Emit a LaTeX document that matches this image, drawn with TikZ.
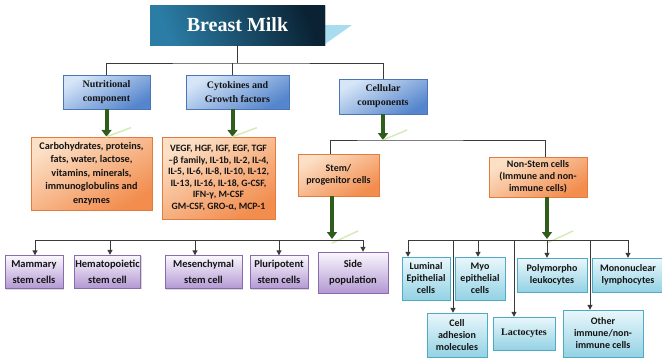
\documentclass[tikz,border=0pt]{standalone}
\usepackage{fontspec}
\setmainfont{Liberation Serif}
\newfontfamily\boxfont{Carlito}
\usetikzlibrary{arrows.meta,shadows}

\definecolor{titlelight}{HTML}{2B7DA6}
\definecolor{titledark}{HTML}{0A2233}
\definecolor{titleside}{HTML}{A8DDF0}
\definecolor{headtop}{HTML}{D6E6F8}
\definecolor{headbot}{HTML}{5585CC}
\definecolor{headline}{HTML}{4A76B8}
\definecolor{orangetop}{HTML}{FCE0C6}
\definecolor{orangebot}{HTML}{F28D4E}
\definecolor{orangeline}{HTML}{E37B3F}
\definecolor{purpletop}{HTML}{FAF7FD}
\definecolor{purplebot}{HTML}{B398D3}
\definecolor{purpleline}{HTML}{8A6CAE}
\definecolor{cyantop}{HTML}{EAF7FB}
\definecolor{cyanbot}{HTML}{93D2E4}
\definecolor{cyanline}{HTML}{4FAAC4}
\definecolor{arrowgreen}{HTML}{2F5E1C}
\definecolor{streak}{HTML}{D5EBB8}
\definecolor{busgray}{HTML}{3A3A3A}
\definecolor{boxtext}{HTML}{141414}

\tikzset{
  box/.style={inner sep=1pt, align=center, text=boxtext,
    drop shadow={opacity=.3, shadow xshift=1.2pt, shadow yshift=-1.2pt}},
  titlebox/.style={box, left color=titlelight, right color=titledark, shading angle=110,
    text=white, font=\bfseries\fontsize{20}{22}\selectfont},
  headbox/.style={box, draw=headline, top color=headtop, bottom color=headbot, shading angle=30,
    font=\bfseries\fontsize{10}{14}\selectfont},
  orangebox/.style={box, draw=orangeline, top color=orangetop, bottom color=orangebot, shading angle=30,
    font=\boxfont\bfseries\fontsize{10}{12}\selectfont},
  purplebox/.style={box, draw=purpleline, top color=purpletop, bottom color=purplebot,
    font=\boxfont\bfseries\fontsize{10.5}{16}\selectfont},
  cyanbox/.style={box, draw=cyanline, top color=cyantop, bottom color=cyanbot,
    font=\boxfont\bfseries\fontsize{10}{12}\selectfont},
  bus/.style={draw=busgray, line width=1pt},
  bustip/.style={-{Triangle[length=5pt,width=5pt]}},
  garrow/.style={draw=arrowgreen, line width=4pt, -{Triangle[length=7pt,width=10pt]}},
  streakline/.style={draw=streak, line width=1.5pt, line cap=round}
}

\begin{document}
\begin{tikzpicture}[x=1pt,y=-1pt]
\useasboundingbox (0,0) rectangle (662,357);

% title
\fill[titleside] (325,25) -- (352,25) -- (325,44) -- cycle;
\node[titlebox, minimum width=175pt, minimum height=40pt] (milk) at (237.5,25) {Breast Milk};

% first level
\node[headbox, minimum width=87pt, minimum height=34pt] (nutri) at (106.5,92) {Nutritional\\component};
\node[headbox, minimum width=103pt, minimum height=34pt] (cyto) at (237.5,92) {Cytokines and\\Growth factors};
\node[headbox, minimum width=88pt, minimum height=35pt] (cell) at (383,96.5) {Cellular\\components};

% contents
\node[orangebox, minimum width=121pt, minimum height=73pt, font=\boxfont\bfseries\fontsize{10.2}{13.5}\selectfont] (nutlist) at (91.5,173.5)
  {Carbohydrates, proteins,\\fats, water, lactose,\\vitamins, minerals,\\immunoglobulins and\\enzymes};
\node[orangebox, minimum width=113pt, minimum height=82pt, font=\boxfont\bfseries\fontsize{9.7}{11.5}\selectfont] (cytolist) at (218.5,178)
  {VEGF, HGF, IGF, EGF, TGF\\–β family, IL-1b, IL-2, IL-4,\\IL-5, IL-6, IL-8, IL-10, IL-12,\\IL-13, IL-16, IL-18, G-CSF,\\IFN-γ, M-CSF\\GM-CSF, GRO-α, MCP-1};
\node[orangebox, minimum width=81pt, minimum height=42pt] (stem) at (338.5,175) {Stem/\\progenitor cells};
\node[orangebox, minimum width=98pt, minimum height=40pt] (nonstem) at (538,177) {Non-Stem cells\\(Immune and non-\\immune cells)};

% stem cells
\node[purplebox, minimum width=58pt, minimum height=33pt] (mammary) at (34,272) {Mammary\\stem cells};
\node[purplebox, minimum width=65pt, minimum height=33pt] (hemato) at (107.5,271.5) {Hematopoietic\\stem cell};
\node[purplebox, minimum width=77pt, minimum height=33pt] (mesen) at (203.5,272) {Mesenchymal\\stem cell};
\node[purplebox, minimum width=58pt, minimum height=33pt] (pluri) at (279,272) {Pluripotent\\stem cells};
\node[purplebox, minimum width=70pt, minimum height=41pt] (side) at (353,272.5) {Side\\population};

% non-stem cells
\node[cyanbox, minimum width=48pt, minimum height=43pt] (lum) at (426,278.5) {Luminal\\Epithelial\\cells};
\node[cyanbox, minimum width=50pt, minimum height=43pt] (myo) at (480,278.5) {Myo\\epithelial\\cells};
\node[cyanbox, minimum width=70pt, minimum height=34pt] (poly) at (552,275) {Polymorpho\\leukocytes};
\node[cyanbox, minimum width=72pt, minimum height=34pt] (mono) at (628,275) {Mononuclear\\lymphocytes};
\node[cyanbox, minimum width=60pt, minimum height=44pt] (adh) at (457,335) {Cell\\adhesion\\molecules};
\node[cyanbox, minimum width=62pt, minimum height=33pt, font=\bfseries\fontsize{10}{12}\selectfont] (lacto) at (524,333.5) {Lactocytes};
\node[cyanbox, minimum width=80pt, minimum height=47pt] (other) at (603,333.5) {Other\\immune/non-\\immune cells};

% title bracket
\coordinate (bus1) at (237.5,63);
\draw[bus] (milk.south) -- (bus1);
\draw[bus] (nutri.north) |- (bus1) -| (cell.north);
\draw[bus] ([xshift=-5pt]cyto.north) -- ([xshift=-5pt]cyto.north |- bus1);

% green arrows
\draw[garrow] (nutri.south) -- (nutlist.north -| nutri.south) coordinate (g1);
\draw[streakline] (g1) -- ++(24,-9);
\draw[garrow] ([xshift=-5pt]cyto.south) -- ([xshift=-5pt]cyto.south |- cytolist.north) coordinate (g2);
\draw[streakline] (g2) -- ++(24,-9);

\coordinate (bus2) at (383,140);
\draw[garrow] (cell.south) -- (bus2);
\draw[streakline] (bus2) -- ++(24,-10);
\draw[bus] ([xshift=-8pt]stem.north) |- (bus2) -| ([xshift=7pt]nonstem.north);

% stem bracket
\coordinate (bus3) at (332,240);
\draw[garrow, shorten >=1pt] (stem.south -| bus3) -- (bus3);
\draw[streakline] ([yshift=-3pt]bus3) -- ++(26,-12);
\draw[bus] (bus3 -| 35,0) -- (bus3 -| 363,0);
\foreach \x/\n in {35/mammary,110/hemato,195/mesen,279/pluri,363/side}
  \draw[bus,bustip] (bus3 -| \x,0) -- (\x,0 |- \n.north);

% non-stem bracket
\coordinate (bus4) at (547,240);
\draw[garrow, shorten >=1pt] (nonstem.south -| bus4) -- (bus4);
\draw[streakline] ([yshift=-3pt]bus4) -- ++(26,-12);
\draw[bus] (bus4 -| 408,0) -- (bus4 -| 628,0);
\foreach \x/\n in {408/lum,453/adh,478/myo,514/lacto,547/poly,590/other,628/mono}
  \draw[bus,bustip] (bus4 -| \x,0) -- (\x,0 |- \n.north);
\end{tikzpicture}
\end{document}
